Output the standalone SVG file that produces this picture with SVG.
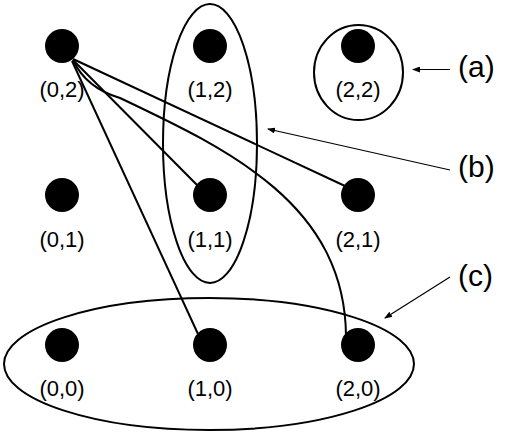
<svg xmlns="http://www.w3.org/2000/svg" width="518" height="436" viewBox="0 0 518 436">
<style>
.node{fill:#000}
.lbl{font-family:"Liberation Sans",Arial,sans-serif;font-size:22px;fill:#000;text-anchor:middle}
.tag{font-family:"Liberation Sans",Arial,sans-serif;font-size:30px;fill:#000}
.edge{fill:none;stroke:#000;stroke-width:2}
.grp{fill:none;stroke:#000;stroke-width:2}
.ptr{fill:none;stroke:#000;stroke-width:1.2;marker-end:url(#ah)}
</style>
<defs>
<marker id="ah" markerWidth="8" markerHeight="6" refX="7" refY="3" orient="auto" markerUnits="userSpaceOnUse">
<path d="M0,0 L8,3 L0,6 Z" fill="#000"/>
</marker>
</defs>
<rect width="518" height="436" fill="#fff"/>
<g id="groups">
<ellipse id="group-a" class="grp" cx="358.5" cy="72.5" rx="44.5" ry="47.5"/>
<ellipse id="group-b" class="grp" cx="210" cy="143.5" rx="47" ry="139.5"/>
<ellipse id="group-c" class="grp" cx="209" cy="364" rx="205" ry="66"/>
</g>
<g id="connectors">
<line class="edge" x1="73" y1="59" x2="345" y2="186"/>
<line class="edge" x1="73" y1="60" x2="198" y2="186"/>
<line class="edge" x1="72" y1="61" x2="198" y2="334"/>
<path class="edge" d="M73,60 Q86,88 120,98 C230,150 345,205 346,336"/>
</g>
<g id="n02"><circle class="node" cx="62" cy="46" r="17"/><text class="lbl" x="62" y="97">(0,2)</text></g>
<g id="n12"><circle class="node" cx="210" cy="46" r="17"/><text class="lbl" x="210" y="97">(1,2)</text></g>
<g id="n22"><circle class="node" cx="358" cy="46" r="17"/><text class="lbl" x="358" y="97">(2,2)</text></g>
<g id="n01"><circle class="node" cx="62" cy="195" r="17"/><text class="lbl" x="62" y="247">(0,1)</text></g>
<g id="n11"><circle class="node" cx="210" cy="195" r="17"/><text class="lbl" x="210" y="247">(1,1)</text></g>
<g id="n21"><circle class="node" cx="358" cy="195" r="17"/><text class="lbl" x="358" y="247">(2,1)</text></g>
<g id="n00"><circle class="node" cx="62" cy="345" r="17"/><text class="lbl" x="62" y="396">(0,0)</text></g>
<g id="n10"><circle class="node" cx="210" cy="345" r="17"/><text class="lbl" x="210" y="396">(1,0)</text></g>
<g id="n20"><circle class="node" cx="358" cy="345" r="17"/><text class="lbl" x="358" y="396">(2,0)</text></g>
<g id="pointers">
<line class="ptr" x1="450" y1="69.5" x2="413" y2="69.5"/>
<line class="ptr" x1="450" y1="170" x2="268" y2="129"/>
<line class="ptr" x1="450" y1="277" x2="385" y2="318"/>
</g>
<g id="tags">
<text class="tag" x="458" y="77">(a)</text>
<text class="tag" x="458" y="177">(b)</text>
<text class="tag" x="458" y="286">(c)</text>
</g>
</svg>
